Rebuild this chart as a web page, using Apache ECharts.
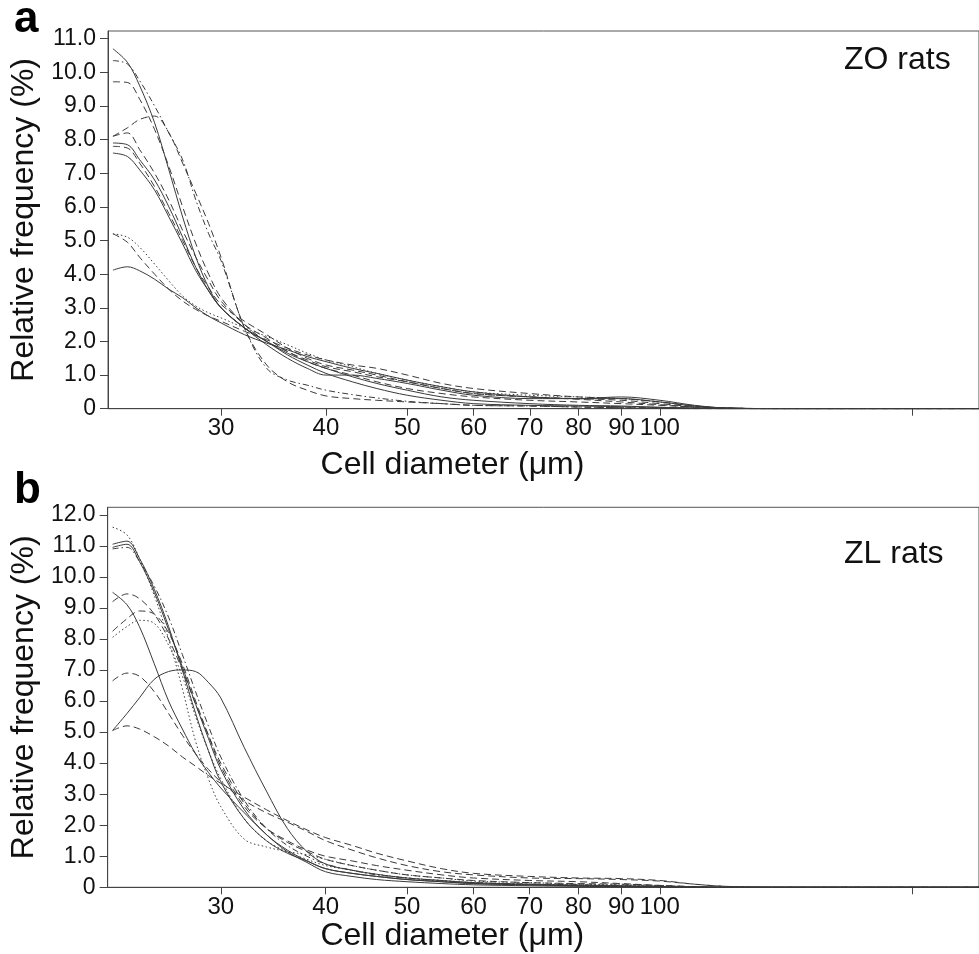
<!DOCTYPE html>
<html><head><meta charset="utf-8">
<script src="https://cdn.jsdelivr.net/npm/echarts@6/dist/echarts.min.js"></script>
<style>html,body{margin:0;padding:0;background:#fff}#c{width:979px;height:954px}</style>
</head><body><div id="c"></div>
<script>
// Cell diameter (µm) sample points (log x axis)
const diameters = [22.3, 23.2, 24, 25, 26, 27, 28, 29, 30, 32, 34, 36, 38, 40, 43, 46, 50, 55, 60, 70, 80, 90, 100, 110, 120, 140, 240];
const xTickValues = [30, 40, 50, 60, 70, 80, 90, 100, 200];
const xLabelValues = [30, 40, 50, 60, 70, 80, 90, 100];
const yTicksZO = [0, 1, 2, 3, 4, 5, 6, 7, 8, 9, 10, 11];
const yTicksZL = [0, 1, 2, 3, 4, 5, 6, 7, 8, 9, 10, 11, 12];

// Panel a: ZO rats (relative frequency %)
const zo1 = [10.7, 10.3, 9.6, 8.5, 7.1, 5.7, 4.5, 3.6, 3.0, 2.4, 2.0, 1.6, 1.3, 1.05, 0.8, 0.6, 0.4, 0.25, 0.15, 0.1, 0.08, 0.06, 0.04, 0.02, 0, 0, 0];
const zo2 = [10.35, 10.25, 9.75, 9.0, 8.2, 7.4, 6.2, 5.2, 4.4, 2.4, 1.2, 0.85, 0.7, 0.55, 0.42, 0.32, 0.22, 0.15, 0.1, 0.08, 0.05, 0.03, 0.02, 0, 0, 0, 0];
const zo3 = [9.72, 9.7, 9.2, 8.3, 7.2, 6.0, 4.9, 4.0, 3.3, 2.5, 2.0, 1.7, 1.4, 1.2, 1.0, 0.8, 0.6, 0.45, 0.35, 0.25, 0.2, 0.15, 0.1, 0.05, 0.02, 0, 0];
const zo4 = [8.1, 8.35, 8.6, 8.7, 8.2, 7.3, 6.4, 5.5, 4.5, 2.4, 1.3, 0.8, 0.55, 0.38, 0.3, 0.25, 0.2, 0.15, 0.1, 0.08, 0.05, 0.03, 0.02, 0, 0, 0, 0];
const zo5 = [8.1, 8.2, 7.7, 7.0, 6.2, 5.3, 4.5, 3.8, 3.2, 2.5, 2.1, 1.7, 1.45, 1.25, 1.1, 0.95, 0.8, 0.6, 0.45, 0.35, 0.28, 0.2, 0.12, 0.05, 0.02, 0, 0];
const zo6 = [7.9, 7.85, 7.4, 6.8, 6.0, 5.1, 4.2, 3.5, 3.0, 2.4, 2.0, 1.65, 1.4, 1.2, 0.95, 0.75, 0.55, 0.35, 0.25, 0.15, 0.1, 0.08, 0.04, 0.02, 0, 0, 0];
const zo7 = [7.8, 7.75, 7.3, 6.6, 5.8, 5.0, 4.2, 3.6, 3.1, 2.6, 2.2, 1.8, 1.5, 1.3, 1.15, 1.0, 0.8, 0.6, 0.45, 0.35, 0.3, 0.25, 0.15, 0.06, 0.02, 0, 0];
const zo8 = [7.6, 7.5, 7.1, 6.5, 5.7, 4.9, 4.1, 3.5, 3.0, 2.4, 1.9, 1.5, 1.2, 1.0, 1.0, 0.9, 0.75, 0.55, 0.4, 0.3, 0.3, 0.35, 0.25, 0.1, 0.02, 0, 0];
const zo9 = [5.2, 5.1, 4.8, 4.3, 3.8, 3.35, 3.05, 2.85, 2.7, 2.4, 2.15, 1.9, 1.65, 1.45, 1.25, 1.05, 0.85, 0.65, 0.5, 0.4, 0.35, 0.3, 0.2, 0.08, 0.02, 0, 0];
const zo10 = [5.2, 4.95, 4.5, 4.0, 3.55, 3.2, 2.95, 2.75, 2.6, 2.3, 2.05, 1.8, 1.6, 1.45, 1.3, 1.2, 1.0, 0.75, 0.6, 0.45, 0.35, 0.3, 0.2, 0.08, 0.02, 0, 0];
const zo11 = [4.12, 4.22, 4.1, 3.85, 3.55, 3.3, 3.0, 2.75, 2.55, 2.2, 1.95, 1.75, 1.55, 1.4, 1.2, 1.05, 0.85, 0.65, 0.5, 0.35, 0.3, 0.3, 0.2, 0.08, 0.02, 0, 0];
const zoStyles = ['solid', 'dashdot', 'dash', 'dash', 'dash', 'solid', 'dash', 'solid', 'dot', 'dash', 'solid'];

// Panel b: ZL rats (relative frequency %)
const zl1 = [11.6, 11.35, 10.6, 9.4, 8.0, 6.4, 4.7, 3.5, 2.6, 1.55, 1.3, 1.15, 1.05, 0.9, 0.7, 0.55, 0.4, 0.3, 0.2, 0.15, 0.1, 0.08, 0.05, 0.02, 0, 0, 0];
const zl2 = [11.05, 11.15, 10.6, 9.6, 8.4, 7.0, 5.6, 4.4, 3.4, 2.2, 1.5, 1.1, 0.85, 0.6, 0.45, 0.35, 0.25, 0.18, 0.12, 0.08, 0.05, 0.03, 0.02, 0, 0, 0, 0];
const zl3 = [10.95, 11.05, 10.5, 9.5, 8.3, 7.1, 5.9, 4.8, 3.8, 2.5, 1.7, 1.2, 0.85, 0.6, 0.45, 0.35, 0.25, 0.18, 0.12, 0.08, 0.05, 0.03, 0.02, 0, 0, 0, 0];
const zl4 = [10.9, 10.95, 10.5, 9.7, 8.7, 7.5, 6.3, 5.2, 4.2, 2.8, 1.9, 1.35, 1.0, 0.75, 0.55, 0.4, 0.3, 0.2, 0.15, 0.1, 0.08, 0.05, 0.03, 0.01, 0, 0, 0];
const zl5 = [9.5, 9.1, 8.4, 7.2, 6.0, 5.1, 4.3, 3.7, 3.2, 2.4, 1.7, 1.15, 0.8, 0.5, 0.35, 0.25, 0.18, 0.12, 0.08, 0.05, 0.03, 0.02, 0.01, 0, 0, 0, 0];
const zl6 = [9.2, 9.45, 9.3, 8.8, 8.0, 7.0, 5.9, 4.9, 4.0, 2.7, 1.9, 1.45, 1.15, 0.9, 0.7, 0.55, 0.4, 0.3, 0.22, 0.15, 0.12, 0.1, 0.06, 0.02, 0, 0, 0];
const zl7 = [8.25, 8.65, 8.9, 8.8, 8.2, 7.2, 6.0, 4.9, 3.9, 2.6, 1.9, 1.5, 1.2, 1.0, 0.85, 0.7, 0.55, 0.4, 0.3, 0.22, 0.18, 0.12, 0.06, 0.02, 0, 0, 0];
const zl8 = [8.05, 8.4, 8.6, 8.5, 7.8, 6.8, 5.5, 4.4, 3.5, 2.2, 1.5, 1.15, 0.9, 0.7, 0.55, 0.42, 0.3, 0.22, 0.15, 0.1, 0.07, 0.05, 0.03, 0.01, 0, 0, 0];
const zl9 = [6.65, 6.9, 6.8, 6.3, 5.6, 4.9, 4.3, 3.8, 3.4, 2.8, 2.4, 2.1, 1.8, 1.5, 1.2, 0.95, 0.7, 0.5, 0.4, 0.3, 0.28, 0.25, 0.2, 0.1, 0.03, 0, 0];
const zl10 = [5.05, 5.6, 6.1, 6.7, 6.95, 7.0, 6.95, 6.6, 6.1, 4.5, 3.1, 1.9, 1.15, 0.75, 0.55, 0.42, 0.3, 0.22, 0.15, 0.1, 0.07, 0.05, 0.03, 0.01, 0, 0, 0];
const zl11 = [5.05, 5.2, 5.1, 4.85, 4.55, 4.2, 3.9, 3.6, 3.35, 2.9, 2.5, 2.15, 1.85, 1.6, 1.35, 1.1, 0.85, 0.6, 0.45, 0.35, 0.3, 0.28, 0.22, 0.1, 0.03, 0, 0];
const zlStyles = ['dot', 'solid', 'solid', 'dashdot', 'solid', 'dash', 'dash', 'dot', 'dash', 'solid', 'dash'];

const zoData = [zo1, zo2, zo3, zo4, zo5, zo6, zo7, zo8, zo9, zo10, zo11];
const zlData = [zl1, zl2, zl3, zl4, zl5, zl6, zl7, zl8, zl9, zl10, zl11];

const dashMap = { solid: 'solid', dash: [7, 4], dot: [1.5, 2.5], dashdot: [6, 3, 1.5, 3] };
const FONT = 'Liberation Sans, Arial, Helvetica, sans-serif';
const AXIS_COLOR = '#444';

function xAxisFor(gridIndex) {
  return {
    type: 'log', logBase: 10, gridIndex, min: 22, max: 240,
    name: 'Cell diameter (μm)', nameLocation: 'middle', nameGap: gridIndex === 0 ? 40 : 33,
    nameTextStyle: { fontFamily: FONT, fontSize: 32, color: '#111', padding: [0, 182, 0, 0] },
    axisLine: { show: true, lineStyle: { color: AXIS_COLOR, width: 1 } },
    axisTick: { show: true, length: 7, inside: false, customValues: xTickValues, lineStyle: { color: AXIS_COLOR } },
    axisLabel: { show: true, customValues: xLabelValues, margin: 8, fontFamily: FONT, fontSize: 24, color: '#111', formatter: v => String(Math.round(v)) },
    splitLine: { show: false }, minorTick: { show: false }
  };
}
function yAxisFor(gridIndex, max, ticks, gap) {
  return {
    type: 'value', gridIndex, min: 0, max,
    name: 'Relative frequency (%)', nameLocation: 'middle', nameGap: gap, nameRotate: 90,
    nameTextStyle: { fontFamily: FONT, fontSize: 32, color: '#111' },
    axisLine: { show: true, lineStyle: { color: AXIS_COLOR, width: 1 } },
    axisTick: { show: true, length: 8, customValues: ticks, lineStyle: { color: AXIS_COLOR } },
    axisLabel: { customValues: ticks, margin: 12, fontFamily: FONT, fontSize: 23, color: '#111', formatter: v => v === 0 ? '0' : v.toFixed(1) },
    splitLine: { show: false }
  };
}
function seriesFor(dataArr, styles, idx) {
  return dataArr.map((vals, i) => ({
    type: 'line', xAxisIndex: idx, yAxisIndex: idx, showSymbol: false, smooth: 0.35,
    lineStyle: { color: '#3a3a3a', width: 1, type: dashMap[styles[i]] },
    data: diameters.map((d, k) => [d, vals[k]]), z: 3, silent: true
  }));
}

const chart = echarts.init(document.getElementById('c'), null, { renderer: 'canvas' });
chart.setOption({
  animation: false,
  backgroundColor: '#fff',
  grid: [
    { left: 108, top: 31, right: -5, height: 377.7, show: true, borderColor: '#555', borderWidth: 1, containLabel: false },
    { left: 105, top: 507.3, right: -8, height: 380, show: true, borderColor: '#555', borderWidth: 1, containLabel: false }
  ],
  xAxis: [xAxisFor(0), xAxisFor(1)],
  yAxis: [yAxisFor(0, 11.23, yTicksZO, 65), yAxisFor(1, 12.24, yTicksZL, 62)],
  series: [...seriesFor(zoData, zoStyles, 0), ...seriesFor(zlData, zlStyles, 1)],
  graphic: [
    { type: 'text', left: 14, top: -2, style: { text: 'a', font: 'bold 44px ' + FONT, fill: '#000' } },
    { type: 'text', left: 14, top: 469, style: { text: 'b', font: 'bold 44px ' + FONT, fill: '#000' } },
    { type: 'text', left: 844, top: 44, style: { text: 'ZO rats', font: '32px ' + FONT, fill: '#111' } },
    { type: 'text', left: 844, top: 538, style: { text: 'ZL rats', font: '32px ' + FONT, fill: '#111' } }
  ]
});
</script></body></html>
